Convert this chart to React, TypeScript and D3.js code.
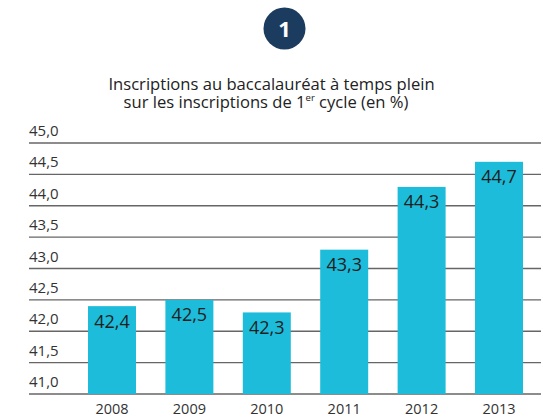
import React from "react";
import * as d3 from "d3";

const years = ["2008", "2009", "2010", "2011", "2012", "2013"];
const values = [42.4, 42.5, 42.3, 43.3, 44.3, 44.7];
const yTicks = [41.0, 41.5, 42.0, 42.5, 43.0, 43.5, 44.0, 44.5, 45.0];
const titleLine1 = "Inscriptions au baccalauréat à temps plein";
const badgeLabel = "1";

const W = 543;
const H = 418;
const FONT = "'Open Sans', 'DejaVu Sans', sans-serif";
const fmt = (v: number) => v.toFixed(1).replace(".", ",");

export default function App() {
  const y = d3.scaleLinear().domain([41, 45]).range([394, 143]);
  const x = d3.scaleBand<string>().domain(years).range([88, 523]).paddingInner(0.38).paddingOuter(0);
  const gridX0 = 29;
  const gridX1 = 541;
  return (
    <svg width={W} height={H} style={{ position: "absolute", left: 0, top: 0 }} fontFamily={FONT}>
      <rect width={W} height={H} fill="#fff" />
      <circle cx={284.5} cy={28.5} r={21} fill="#1b3b5f" />
      <text x={284.5} y={36.5} textAnchor="middle" fill="#fff" fontSize={22} fontWeight={700}>
        {badgeLabel}
      </text>
      <text x={271.5} y={90} textAnchor="middle" fontSize={16.6} fill="#222">
        {titleLine1}
      </text>
      <text x={266} y={107.5} textAnchor="middle" fontSize={16.6} fill="#222">
        sur les inscriptions de 1<tspan fontSize={9.5} dy={-6.5}>er</tspan>
        <tspan dy={6.5}> cycle (en %)</tspan>
      </text>
      {yTicks.map((t) => (
        <g key={t}>
          <line x1={gridX0} x2={gridX1} y1={y(t)} y2={y(t)} stroke="#666" strokeWidth={1.4} />
          <text x={gridX0} y={y(t) - 7} fontSize={15} fill="#333">
            {fmt(t)}
          </text>
        </g>
      ))}
      {years.map((yr, i) => (
        <g key={yr}>
          <rect x={x(yr)} y={y(values[i])} width={x.bandwidth()} height={y(41) - y(values[i])} fill="#1dbcda" />
          <text x={(x(yr) as number) + x.bandwidth() / 2} y={y(values[i]) + 21.5} textAnchor="middle" fontSize={18} fill="#1e1e1e">
            {fmt(values[i])}
          </text>
          <text x={(x(yr) as number) + x.bandwidth() / 2} y={414} textAnchor="middle" fontSize={14.5} fill="#333">
            {yr}
          </text>
        </g>
      ))}
    </svg>
  );
}
